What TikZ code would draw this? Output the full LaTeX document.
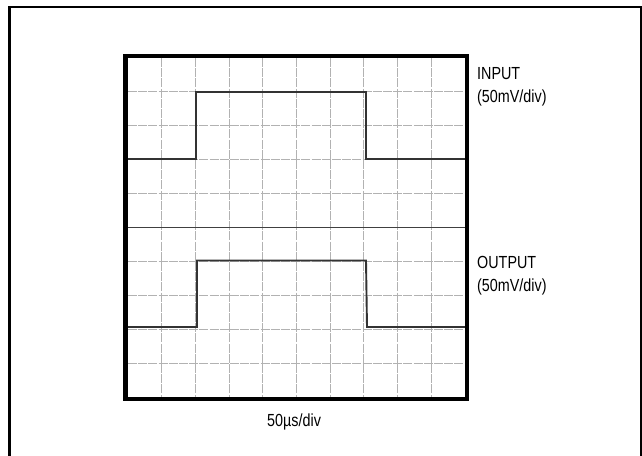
\documentclass[tikz,border=0pt]{standalone}
\usepackage{fontspec}
\setmainfont{Liberation Sans}[FakeStretch=0.82]
\begin{document}
\begin{tikzpicture}[x=1pt,y=-1pt,
  gridline/.style={gray!60, line width=1pt, dash pattern=on 9pt off 1.2pt},
  centreline/.style={black!75, line width=1.4pt},
  wave/.style={black!80, line width=1.9pt, line join=miter},
  screen/.style={line width=4.5pt},
  frame/.style={line width=2.5pt},
  lbl/.style={anchor=base west, inner sep=0pt, font=\fontsize{17.5}{23}\selectfont, align=left}]
\useasboundingbox (0,0) rectangle (642,455);
% outer frame
\draw[frame] (9.5,470) -- (9.5,7) -- (640.8,7) -- (640.8,470);
% grid
\foreach \i in {1,...,9}
  \draw[gridline] ({128+\i*33.7},58) -- ({128+\i*33.7},397);
\foreach \j in {1,2,3,4,6,7,8,9}
  \draw[gridline] (128,{58+\j*33.9}) -- (465,{58+\j*33.9});
\draw[centreline] (128,227.5) -- (465,227.5);
% waveforms
\draw[wave] (128,159) -- (196,159) -- (196,92) -- (366,92) -- (366,159) -- (465,159);
\draw[wave] (128,327) -- (197,327) -- (197,260.5) -- (366,260.5) -- (367,327) -- (465,327);
% screen border
\draw[screen] (125.5,56) rectangle (467,399);
% labels
\node[lbl] (inlbl) at (477,102.5) {INPUT\\(50mV/div)};
\node[lbl] (outlbl) at (477,291) {OUTPUT\\(50mV/div)};
\node[lbl] (tlbl) at (267,426) {50µs/div};
\end{tikzpicture}
\end{document}
